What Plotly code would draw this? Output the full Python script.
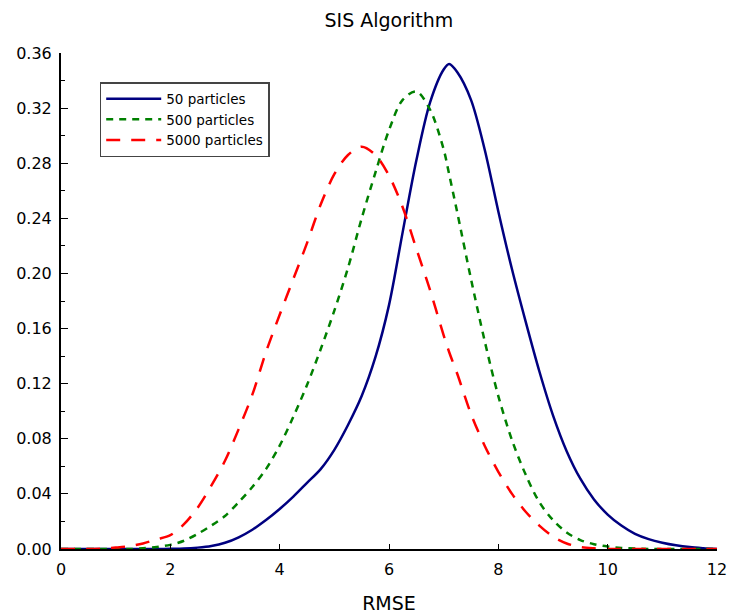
import plotly.graph_objects as go

rmse = [0, 0.25, 0.5, 0.75, 1.0, 1.25, 1.5, 1.75, 2.0, 2.25, 2.5, 2.75, 3.0, 3.25, 3.5, 3.75,
        4.0, 4.25, 4.5, 4.75, 5.0, 5.25, 5.5, 5.75, 6.0, 6.25, 6.5, 6.75, 7.0, 7.1, 7.25, 7.5, 7.75,
        8.0, 8.25, 8.5, 8.75, 9.0, 9.25, 9.5, 9.75, 10.0, 10.25, 10.5, 10.75, 11.0, 11.25, 11.5, 11.75, 12.0]

p50 = [0, 0, 0, 0, 0, 0, 0, 0, 0.0001, 0.0003, 0.001, 0.0022, 0.0045, 0.0085, 0.014, 0.021,
       0.029, 0.038, 0.048, 0.058, 0.072, 0.090, 0.111, 0.139, 0.177, 0.230, 0.282, 0.324, 0.348, 0.352, 0.346, 0.326, 0.290,
       0.245, 0.203, 0.165, 0.129, 0.097, 0.071, 0.051, 0.036, 0.025, 0.017, 0.011, 0.0072, 0.0046, 0.0027, 0.0014, 0.0006, 0]

p500 = [0, 0, 0, 0, 0, 0, 0.0005, 0.0015, 0.003, 0.006, 0.011, 0.017, 0.024, 0.034, 0.045, 0.058,
        0.075, 0.096, 0.119, 0.145, 0.173, 0.204, 0.240, 0.273, 0.304, 0.326, 0.332, 0.319, 0.290, 0.272, 0.244, 0.196, 0.151,
        0.111, 0.079, 0.054, 0.034, 0.021, 0.012, 0.0065, 0.0035, 0.0018, 0.0008, 0.0003, 0, 0, 0, 0, 0, 0]

p5000 = [0, 0, 0, 0.0003, 0.001, 0.002, 0.004, 0.007, 0.010, 0.018, 0.030, 0.046, 0.064, 0.087, 0.112, 0.143,
         0.170, 0.196, 0.222, 0.250, 0.272, 0.286, 0.292, 0.286, 0.271, 0.248, 0.218, 0.188, 0.155, 0.143, 0.127, 0.098, 0.075,
         0.056, 0.040, 0.027, 0.017, 0.009, 0.004, 0.0015, 0.0005, 0, 0, 0, 0, 0, 0, 0, 0, 0]

names = ["50 particles", "500 particles", "5000 particles"]
series = [p50, p500, p5000]
colors = ["#000080", "#008000", "#FF0000"]
dashes = ["solid", "7px,6px", "14px,11px"]

fig = go.Figure()
for n, s, c, d in zip(names, series, colors, dashes):
    fig.add_trace(go.Scatter(x=rmse, y=s, name=n, mode="lines",
                             line=dict(color=c, width=2.5, dash=d, shape="spline", smoothing=0.9)))

font = "DejaVu Sans, Verdana, sans-serif"
fig.update_layout(
    width=731, height=615,
    margin=dict(l=61, r=14, t=53, b=66, autoexpand=False),
    paper_bgcolor="white", plot_bgcolor="white",
    font=dict(family=font, size=16, color="black"),
    title=dict(text="SIS Algorithm", x=0.532, xanchor="center", y=0.967, yanchor="middle",
               font=dict(size=19)),
    showlegend=True,
    legend=dict(x=0.059, y=0.9415, xanchor="left", yanchor="top",
                bordercolor="#444", borderwidth=1.5, bgcolor="white",
                font=dict(size=13.5), tracegroupgap=0, itemwidth=55),
    xaxis=dict(range=[0, 12], dtick=2, showgrid=False, zeroline=False, automargin=False,
               showline=True, linecolor="black", linewidth=2,
               ticks="inside", ticklen=5, tickcolor="black", ticklabelstandoff=5,
               title=dict(text="RMSE", standoff=18, font=dict(size=19))),
    yaxis=dict(range=[0, 0.36], dtick=0.04, tickformat=".2f", showgrid=False, zeroline=False,
               automargin=False,
               showline=True, linecolor="black", linewidth=2,
               ticks="inside", ticklen=7, tickcolor="black", ticklabelstandoff=4,
               minor=dict(ticks="inside", ticklen=4, dtick=0.02, tickcolor="black", showgrid=False)),
)

fig.write_html("out.html")
